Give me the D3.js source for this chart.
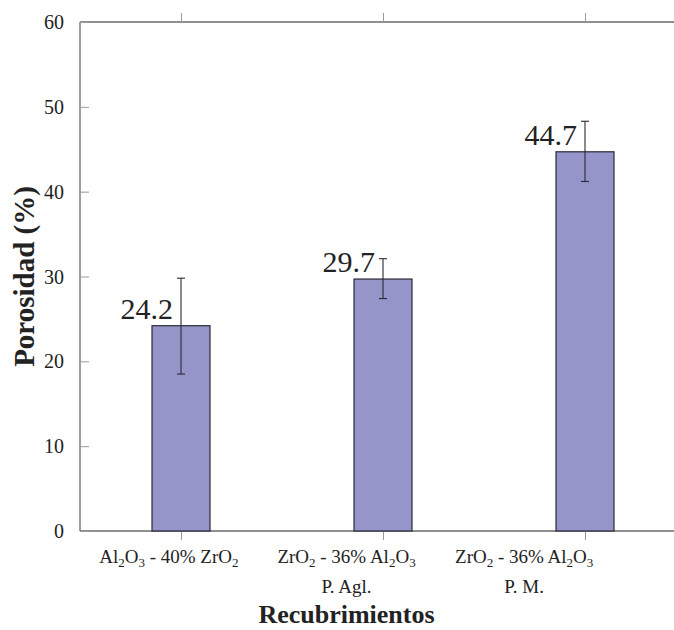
<!DOCTYPE html>
<html><head><meta charset="utf-8">
<script src="https://cdn.jsdelivr.net/npm/d3@7"></script>
<style>body{margin:0;background:#fff}svg{display:block}</style>
</head><body>
<svg id="c" width="674" height="630"></svg>
<script>
const categories = ["c1","c2","c3"];
const catLine1 = [
  [["Al",0],["2",1],["O",0],["3",1],[" - 40% ZrO",0],["2",1]],
  [["ZrO",0],["2",1],[" - 36% Al",0],["2",1],["O",0],["3",1]],
  [["ZrO",0],["2",1],[" - 36% Al",0],["2",1],["O",0],["3",1]]
];
const catLine2 = ["", "P. Agl.", "P. M."];
const values = [24.2, 29.7, 44.7];
const errLow = [18.5, 27.4, 41.2];
const errHigh = [29.8, 32.1, 48.3];
const yTicks = [0,10,20,30,40,50,60];

const svg = d3.select("#c");
const L = 80, T = 22, B = 531, R = 686;
const serif = "'Liberation Serif', 'Times New Roman', serif";

const y = d3.scaleLinear().domain([0,60]).range([B,T]);
const x = d3.scalePoint().domain(categories).range([L,R]).padding(0.5);
const xl = d3.scalePoint().domain(categories).range([L,613]).padding(0.5);

// frame
const axisCol = "#6a6a6a";
svg.append("line").attr("x1",L).attr("x2",R).attr("y1",T).attr("y2",T).attr("stroke",axisCol).attr("stroke-width",1.3);
svg.append("line").attr("x1",L).attr("x2",R).attr("y1",B).attr("y2",B).attr("stroke",axisCol).attr("stroke-width",1.3);
svg.append("line").attr("x1",L).attr("x2",L).attr("y1",T).attr("y2",B).attr("stroke",axisCol).attr("stroke-width",1.3);

// y axis ticks (inward)
const yAxis = d3.axisLeft(y).tickValues(yTicks).tickSizeInner(-9).tickSizeOuter(0).tickPadding(16);
const gy = svg.append("g").attr("transform",`translate(${L},0)`).call(yAxis);
gy.select(".domain").remove();
gy.selectAll(".tick line").attr("stroke","#9a9a9a");
gy.selectAll(".tick text").attr("font-family",serif).attr("font-size",20).attr("fill","#222").attr("dy","0.33em");

// x ticks bottom outward, top outward
const gxb = svg.append("g").attr("transform",`translate(0,${B})`).call(d3.axisBottom(x).tickSize(9).tickFormat(""));
gxb.select(".domain").remove();
gxb.selectAll(".tick line").attr("stroke","#9a9a9a");
const gxt = svg.append("g").attr("transform",`translate(0,${T})`).call(d3.axisTop(x).tickSize(9).tickFormat(""));
gxt.select(".domain").remove();
gxt.selectAll(".tick line").attr("stroke","#9a9a9a");

// bars
const bw = 58;
svg.selectAll("rect.bar").data(values).join("rect").attr("class","bar")
  .attr("x",(d,i)=>x(categories[i])-bw/2).attr("width",bw)
  .attr("y",d=>y(d)).attr("height",d=>B-y(d))
  .attr("fill","#9595c9").attr("stroke","#2a2a38").attr("stroke-width",1.2);

// error bars
const eg = svg.append("g").attr("stroke","#2a2a30").attr("stroke-width",1.1);
categories.forEach((c,i)=>{
  const cx = x(c);
  eg.append("line").attr("x1",cx).attr("x2",cx).attr("y1",y(errLow[i])).attr("y2",y(errHigh[i]));
  eg.append("line").attr("x1",cx-4).attr("x2",cx+4).attr("y1",y(errLow[i])).attr("y2",y(errLow[i]));
  eg.append("line").attr("x1",cx-4).attr("x2",cx+4).attr("y1",y(errHigh[i])).attr("y2",y(errHigh[i]));
});

// value labels
svg.selectAll("text.val").data(values).join("text").attr("class","val")
  .attr("x",(d,i)=>x(categories[i])-8).attr("y",d=>y(d)-7)
  .attr("text-anchor","end").attr("font-family",serif).attr("font-size",30).attr("fill","#222")
  .text(d=>d.toFixed(1));

// category labels
categories.forEach((c,i)=>{
  const t = svg.append("text").attr("x",xl(c)).attr("y",563).attr("text-anchor","middle")
    .attr("font-family",serif).attr("font-size",19).attr("fill","#222");
  catLine1[i].forEach(([s,sub])=>{
    const ts = t.append("tspan").text(s);
    if(sub) ts.attr("font-size",13).attr("baseline-shift","-4");
  });
  if(catLine2[i]) svg.append("text").attr("x",xl(c)).attr("y",593).attr("text-anchor","middle")
    .attr("font-family",serif).attr("font-size",19).attr("fill","#222").text(catLine2[i]);
});

// axis titles
svg.append("text").attr("x",(L+613)/2).attr("y",623).attr("text-anchor","middle")
  .attr("font-family",serif).attr("font-weight","bold").attr("font-size",26).attr("fill","#222").text("Recubrimientos");
svg.append("text").attr("transform",`translate(34,${(T+B)/2}) rotate(-90)`).attr("text-anchor","middle")
  .attr("font-family",serif).attr("font-weight","bold").attr("font-size",29).attr("fill","#222").text("Porosidad (%)");
</script>
</body></html>
